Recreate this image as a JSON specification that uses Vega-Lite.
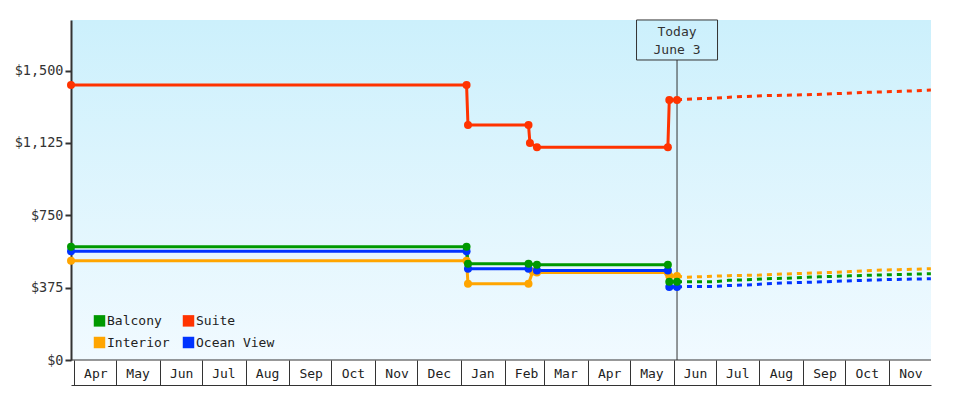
{
  "$schema": "https://vega.github.io/schema/vega-lite/v6.json",
  "width": 860,
  "height": 340,
  "autosize": {"type": "none"},
  "padding": {"left": 71, "top": 20, "right": 49, "bottom": 40},
  "background": "white",
  "config": {
    "view": {"stroke": null, "fill": {"gradient": "linear", "x1": 0, "y1": 0, "x2": 0, "y2": 1, "stops": [{"offset": 0, "color": "#ccf0fc"}, {"offset": 1, "color": "#f1faff"}]}},
    "font": "DejaVu Sans Mono"
  },
  "datasets": {
    "hist": [
      {"series": "Interior", "date": "2024-03-30", "price": 514},
      {"series": "Interior", "date": "2025-01-05", "price": 514},
      {"series": "Interior", "date": "2025-01-06", "price": 395},
      {"series": "Interior", "date": "2025-02-18", "price": 395},
      {"series": "Interior", "date": "2025-02-21", "price": 459},
      {"series": "Interior", "date": "2025-02-24", "price": 454},
      {"series": "Interior", "date": "2025-05-28", "price": 454},
      {"series": "Interior", "date": "2025-05-29", "price": 435},
      {"series": "Interior", "date": "2025-06-03T12:00:00Z", "price": 435},
      {"series": "Ocean View", "date": "2024-03-30", "price": 564},
      {"series": "Ocean View", "date": "2025-01-05", "price": 564},
      {"series": "Ocean View", "date": "2025-01-06", "price": 473},
      {"series": "Ocean View", "date": "2025-02-18", "price": 473},
      {"series": "Ocean View", "date": "2025-02-24", "price": 464},
      {"series": "Ocean View", "date": "2025-05-28", "price": 464},
      {"series": "Ocean View", "date": "2025-05-29", "price": 378},
      {"series": "Ocean View", "date": "2025-06-03T12:00:00Z", "price": 378},
      {"series": "Balcony", "date": "2024-03-30", "price": 587},
      {"series": "Balcony", "date": "2025-01-05", "price": 587},
      {"series": "Balcony", "date": "2025-01-06", "price": 499},
      {"series": "Balcony", "date": "2025-02-18", "price": 499},
      {"series": "Balcony", "date": "2025-02-24", "price": 494},
      {"series": "Balcony", "date": "2025-05-28", "price": 494},
      {"series": "Balcony", "date": "2025-05-29", "price": 405},
      {"series": "Balcony", "date": "2025-06-03T12:00:00Z", "price": 405},
      {"series": "Suite", "date": "2024-03-30", "price": 1425},
      {"series": "Suite", "date": "2025-01-05", "price": 1425},
      {"series": "Suite", "date": "2025-01-06", "price": 1218},
      {"series": "Suite", "date": "2025-02-18", "price": 1218},
      {"series": "Suite", "date": "2025-02-19", "price": 1125},
      {"series": "Suite", "date": "2025-02-24", "price": 1102},
      {"series": "Suite", "date": "2025-05-28", "price": 1102},
      {"series": "Suite", "date": "2025-05-29", "price": 1348},
      {"series": "Suite", "date": "2025-06-03T12:00:00Z", "price": 1348}
    ],
    "forecast": [
      {"series": "Interior", "date": "2025-06-03T12:00:00Z", "price": 435},
      {"series": "Interior", "date": "2025-06-10", "price": 429},
      {"series": "Interior", "date": "2025-06-25", "price": 433},
      {"series": "Interior", "date": "2025-07-10", "price": 437},
      {"series": "Interior", "date": "2025-08-01", "price": 440},
      {"series": "Interior", "date": "2025-08-20", "price": 446},
      {"series": "Interior", "date": "2025-09-15", "price": 452},
      {"series": "Interior", "date": "2025-10-05", "price": 458},
      {"series": "Interior", "date": "2025-10-22", "price": 465},
      {"series": "Interior", "date": "2025-11-08", "price": 468},
      {"series": "Interior", "date": "2025-11-30T20:00:00Z", "price": 473},
      {"series": "Ocean View", "date": "2025-06-03T12:00:00Z", "price": 378},
      {"series": "Ocean View", "date": "2025-06-10", "price": 381},
      {"series": "Ocean View", "date": "2025-06-30", "price": 381},
      {"series": "Ocean View", "date": "2025-07-10", "price": 386},
      {"series": "Ocean View", "date": "2025-07-28", "price": 390},
      {"series": "Ocean View", "date": "2025-08-05", "price": 395},
      {"series": "Ocean View", "date": "2025-08-20", "price": 400},
      {"series": "Ocean View", "date": "2025-09-15", "price": 405},
      {"series": "Ocean View", "date": "2025-10-10", "price": 412},
      {"series": "Ocean View", "date": "2025-11-01", "price": 417},
      {"series": "Ocean View", "date": "2025-11-30T20:00:00Z", "price": 421},
      {"series": "Balcony", "date": "2025-06-03T12:00:00Z", "price": 405},
      {"series": "Balcony", "date": "2025-06-30", "price": 406},
      {"series": "Balcony", "date": "2025-07-10", "price": 413},
      {"series": "Balcony", "date": "2025-07-28", "price": 417},
      {"series": "Balcony", "date": "2025-08-05", "price": 421},
      {"series": "Balcony", "date": "2025-08-20", "price": 424},
      {"series": "Balcony", "date": "2025-09-12", "price": 431},
      {"series": "Balcony", "date": "2025-10-04", "price": 436},
      {"series": "Balcony", "date": "2025-11-01", "price": 442},
      {"series": "Balcony", "date": "2025-11-30T20:00:00Z", "price": 447},
      {"series": "Suite", "date": "2025-06-03T12:00:00Z", "price": 1348},
      {"series": "Suite", "date": "2025-06-15", "price": 1353},
      {"series": "Suite", "date": "2025-07-01", "price": 1357},
      {"series": "Suite", "date": "2025-07-16", "price": 1364},
      {"series": "Suite", "date": "2025-08-05", "price": 1370},
      {"series": "Suite", "date": "2025-08-25", "price": 1373},
      {"series": "Suite", "date": "2025-09-15", "price": 1377},
      {"series": "Suite", "date": "2025-10-08", "price": 1385},
      {"series": "Suite", "date": "2025-10-25", "price": 1389},
      {"series": "Suite", "date": "2025-11-12", "price": 1393},
      {"series": "Suite", "date": "2025-11-30T20:00:00Z", "price": 1399}
    ],
    "today": [
      {"label": "Today", "date": "2025-06-03T12:00:00Z"}
    ]
  },
  "layer": [
    {
      "data": {"name": "hist"},
      "mark": {"type": "line", "strokeWidth": 3},
      "encoding": {
        "x": {
          "field": "date", "type": "temporal",
          "scale": {"type": "utc", "domain": [{"year": 2024, "month": 3, "date": 30, "utc": true}, {"year": 2025, "month": 11, "date": 30, "hours": 22, "utc": true}], "nice": false},
          "axis": {"orient": "bottom", "offset": 25, "tickSize": -25, "tickColor": "#333333", "tickWidth": 1, "domainColor": "#333333", "domainWidth": 1, "labelExpr": "utcFormat(datum.value, '%b')", "labelOffset": 21.5, "labelPadding": 13, "labelBaseline": "middle", "labelAlign": "center", "labelFont": "DejaVu Sans Mono", "labelFontSize": 13, "labelColor": "#222222", "labelFlush": false, "labelOverlap": false, "grid": false, "title": null, "tickCount": {"interval": "month", "step": 1}}
        },
        "y": {
          "field": "price", "type": "quantitative",
          "scale": {"domain": [0, 1762], "nice": false, "zero": true},
          "axis": {"values": [0, 375, 750, 1125, 1500], "format": "$,.0f", "tickSize": 6, "tickWidth": 2, "tickColor": "#333333", "domainColor": "#333333", "domainWidth": 2, "labelPadding": 2, "labelFont": "DejaVu Sans Mono", "labelFontSize": 13.5, "labelColor": "#333333", "grid": false, "title": null}
        },
        "color": {
          "field": "series", "type": "nominal",
          "scale": {"domain": ["Balcony", "Suite", "Interior", "Ocean View"], "range": ["#009900", "#ff3300", "#ffa500", "#0033ff"]},
          "legend": {"orient": "none", "direction": "horizontal", "legendX": 22, "legendY": 294, "columns": 2, "symbolType": "square", "symbolSize": 30, "symbolStrokeWidth": 6, "symbolOpacity": 1, "symbolDash": [], "labelFont": "DejaVu Sans Mono", "labelFontSize": 13, "labelColor": "#222222", "labelOffset": 1, "rowPadding": -13, "columnPadding": 3, "title": null}
        }
      }
    },
    {
      "data": {"name": "today"},
      "mark": {"type": "rule", "color": "#333333", "strokeWidth": 1},
      "encoding": {"y": {"datum": 0, "type": "quantitative"}}
    },
    {
      "data": {"name": "today"},
      "mark": {"type": "rule", "color": "#333333", "strokeWidth": 1},
      "encoding": {
        "x": {"field": "date", "type": "temporal"},
        "y": {"datum": 0, "type": "quantitative"},
        "y2": {"datum": 1554.7}
      }
    },
    {
      "data": {"name": "today"},
      "mark": {"type": "point", "shape": "M-1,-0.494L1,-0.494L1,0.494L-1,0.494Z", "size": 6561, "filled": false, "color": "#333333", "strokeWidth": 1, "opacity": 1},
      "encoding": {
        "x": {"field": "date", "type": "temporal"},
        "y": {"datum": 1658.4, "type": "quantitative"}
      }
    },
    {
      "data": {"name": "today"},
      "mark": {"type": "text", "text": ["Today", "June 3"], "lineHeight": 18, "align": "center", "baseline": "middle", "font": "DejaVu Sans Mono", "fontSize": 13, "color": "#333333"},
      "encoding": {
        "x": {"field": "date", "type": "temporal"},
        "y": {"datum": 1699.8, "type": "quantitative"}
      }
    },
    {
      "data": {"name": "forecast"},
      "mark": {"type": "line", "strokeWidth": 3, "strokeDash": [5, 5], "strokeCap": "butt"},
      "encoding": {
        "x": {"field": "date", "type": "temporal"},
        "y": {"field": "price", "type": "quantitative"},
        "color": {"field": "series", "type": "nominal"}
      }
    },
    {
      "data": {"name": "hist"},
      "mark": {"type": "point", "filled": true, "size": 64, "opacity": 1, "shape": "circle"},
      "encoding": {
        "x": {"field": "date", "type": "temporal"},
        "y": {"field": "price", "type": "quantitative"},
        "color": {"field": "series", "type": "nominal"}
      }
    }
  ]
}
